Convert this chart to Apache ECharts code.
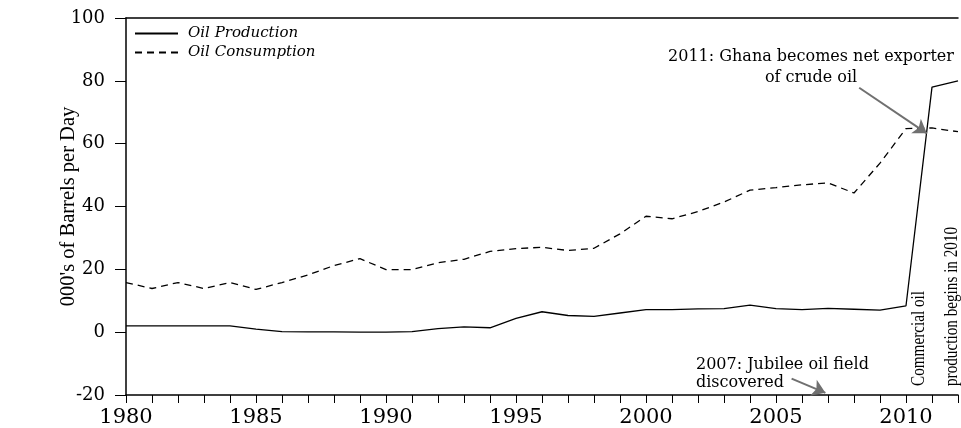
<!DOCTYPE html>
<html><head><meta charset="utf-8">
<script src="https://cdn.jsdelivr.net/npm/echarts@6/dist/echarts.min.js"></script>
<style>html,body{margin:0;padding:0;background:#fff}#c{width:961px;height:428px}</style>
</head><body><div id="c"></div>
<script>
const years = [];
for (let y = 1980; y <= 2012; y++) years.push(y);
const production = [2,2,2,2,2,1,0.2,0.1,0.1,0,0,0.2,1.1,1.7,1.4,4.4,6.5,5.3,5.0,6.1,7.2,7.2,7.4,7.5,8.6,7.5,7.2,7.6,7.3,7.0,8.4,78,80];
const consumption = [15.8,13.9,15.8,13.9,15.8,13.6,15.8,18.2,21.2,23.4,19.9,19.9,22.1,23.2,25.7,26.6,27.0,26.0,26.7,31.3,36.9,36.1,38.4,41.4,45.2,46.0,46.9,47.5,44.3,53.8,64.8,65.0,63.8];
const yTicks = {min: -20, max: 100, step: 20};
const arrowExporter = [[2008.2, 77.8], [2010.8, 63.3]];
const arrowJubilee = [[2005.6, -14.8], [2006.9, -19.3]];

const serif = 'Liberation Serif';
const pal = 'DejaVu Serif';
const chart = echarts.init(document.getElementById('c'), null, {renderer: 'canvas'});
chart.setOption({
  animation: false,
  backgroundColor: '#fff',
  grid: {left: 126, right: 0, top: 18, bottom: 33},
  legend: {
    left: 129, top: 21, orient: 'vertical', itemGap: 4, itemWidth: 43, itemHeight: 14,
    itemStyle: {opacity: 0},
    textStyle: {fontFamily: pal, fontStyle: 'italic', fontSize: 15, color: '#000', padding: [0, 0, 0, 5]},
    data: ['Oil Production', 'Oil Consumption']
  },
  xAxis: [{
    type: 'value', min: 1980, max: 2012, interval: 1,
    axisLine: {onZero: false, lineStyle: {color: '#000', width: 1.5}},
    axisTick: {show: true, length: 8, lineStyle: {color: '#000', width: 1}},
    splitLine: {show: false},
    axisLabel: {
      color: '#000', fontFamily: pal, fontSize: 21, margin: 12,
      formatter: v => (v % 5 === 0 ? String(v) : '')
    }
  }, {
    type: 'value', position: 'top', min: 1980, max: 2012,
    axisLine: {show: true, onZero: false, lineStyle: {color: '#000', width: 1.5}},
    axisTick: {show: false}, axisLabel: {show: false}, splitLine: {show: false}
  }],
  yAxis: {
    type: 'value', min: yTicks.min, max: yTicks.max, interval: yTicks.step,
    name: "000's of Barrels per Day", nameLocation: 'middle', nameGap: 47, nameRotate: 90,
    nameMoveOverlap: false,
    nameTextStyle: {fontFamily: serif, fontSize: 20.5, color: '#000'},
    axisLine: {show: true, onZero: false, lineStyle: {color: '#000', width: 1.5}},
    axisTick: {show: true, length: 11, lineStyle: {color: '#000'}},
    splitLine: {show: false},
    axisLabel: {color: '#000', fontFamily: pal, fontSize: 18, margin: 21}
  },
  series: [
    {
      name: 'Oil Production', type: 'line', symbol: 'none',
      data: years.map((y, i) => [y, production[i]]),
      lineStyle: {color: '#000', width: 1.3}, itemStyle: {color: '#000'},
      markLine: {
        silent: true, symbol: ['none', 'arrow'], symbolSize: 13,
        lineStyle: {color: '#707070', width: 2, type: 'solid'}, label: {show: false},
        data: [
          [{coord: arrowExporter[0]}, {coord: arrowExporter[1]}],
          [{coord: arrowJubilee[0]}, {coord: arrowJubilee[1]}]
        ]
      }
    },
    {
      name: 'Oil Consumption', type: 'line', symbol: 'none',
      data: years.map((y, i) => [y, consumption[i]]),
      lineStyle: {color: '#000', width: 1.3, type: [7, 5]}, itemStyle: {color: '#000'}
    }
  ],
  graphic: [
    {type: 'text', x: 811, y: 57, style: {text: '2011: Ghana becomes net exporter', font: '16px "DejaVu Serif"', fill: '#000', textAlign: 'center', textVerticalAlign: 'middle'}},
    {type: 'text', x: 811, y: 78, style: {text: 'of crude oil', font: '16px "DejaVu Serif"', fill: '#000', textAlign: 'center', textVerticalAlign: 'middle'}},
    {type: 'text', x: 696, y: 365, style: {text: '2007: Jubilee oil field', font: '16px "DejaVu Serif"', fill: '#000', textAlign: 'left', textVerticalAlign: 'middle'}},
    {type: 'text', x: 696, y: 383, style: {text: 'discovered', font: '16px "DejaVu Serif"', fill: '#000', textAlign: 'left', textVerticalAlign: 'middle'}},
    {type: 'text', x: 919, y: 386, rotation: Math.PI / 2, scaleX: 0.8, style: {text: 'Commercial oil', font: '19px "Liberation Serif"', fill: '#000', textAlign: 'left', textVerticalAlign: 'middle'}},
    {type: 'text', x: 952, y: 386, rotation: Math.PI / 2, scaleX: 0.8, style: {text: 'production begins in 2010', font: '19px "Liberation Serif"', fill: '#000', textAlign: 'left', textVerticalAlign: 'middle'}}
  ]
});
</script></body></html>
